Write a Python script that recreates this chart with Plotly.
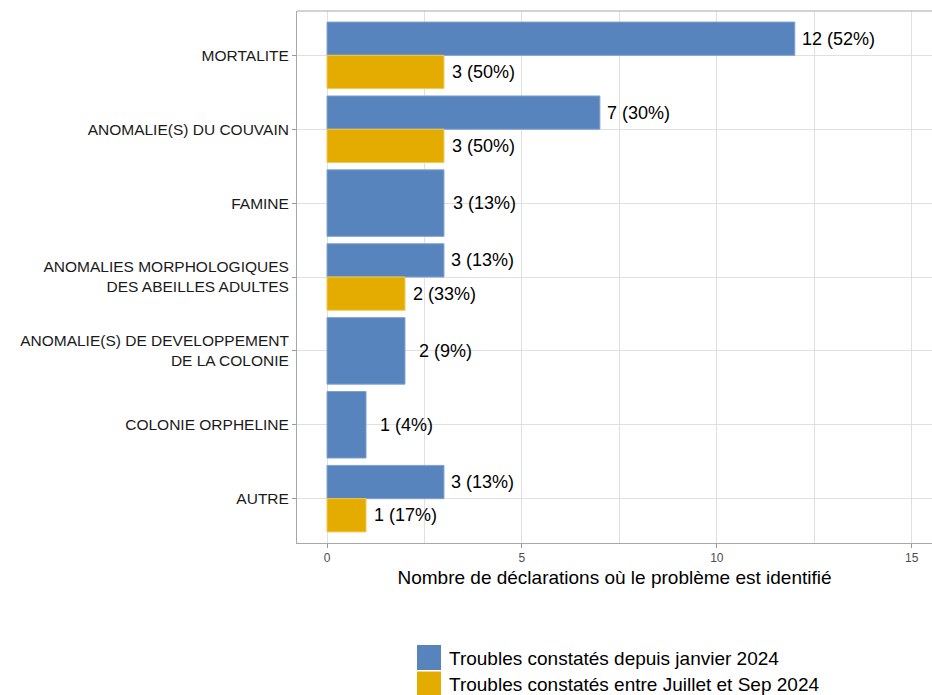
import plotly.graph_objects as go

categories = ["MORTALITE", "ANOMALIE(S) DU COUVAIN", "FAMINE",
              "ANOMALIES MORPHOLOGIQUES<br>DES ABEILLES ADULTES",
              "ANOMALIE(S) DE DEVELOPPEMENT<br>DE LA COLONIE",
              "COLONIE ORPHELINE", "AUTRE"]
since_jan = [12, 7, 3, 3, 2, 1, 3]
since_jan_pct = [52, 30, 13, 13, 9, 4, 13]
jul_sep = [3, 3, None, 2, None, None, 1]
jul_sep_pct = [50, 50, None, 33, None, None, 17]
series_names = ["Troubles constatés depuis janvier 2024",
                "Troubles constatés entre Juillet et Sep 2024"]
x_ticks = [0, 5, 10, 15]

BLUE = "#5884BD"
GOLD = "#E5AC00"
BORDER = "#A8A8A8"
W, H = 932, 695
L, R, T = 297, 0, 11
B = H - 543

n = len(categories)
centers = [n - i for i in range(n)]

by, bw, gy, gx, gw = [], [], [], [], []
for c, v, g in zip(centers, since_jan, jul_sep):
    if g is None:
        by.append(c); bw.append(0.9)
    else:
        by.append(c + 0.225); bw.append(0.45)
        gy.append(c - 0.225); gx.append(g); gw.append(0.45)

fig = go.Figure()
fig.add_trace(go.Bar(x=since_jan, y=by, width=bw, orientation="h",
                     marker=dict(color=BLUE, line=dict(color="#7FA0CF", width=1)),
                     name=series_names[0], showlegend=False, hoverinfo="skip"))
fig.add_trace(go.Bar(x=gx, y=gy, width=gw, orientation="h",
                     marker=dict(color=GOLD, line=dict(color="#F0C850", width=1)),
                     name=series_names[1], showlegend=False, hoverinfo="skip"))

ann = []
for c, yv, v, p, g in zip(centers, by, since_jan, since_jan_pct, jul_sep):
    shift = 5
    if g is None:
        shift = 7 if v >= 3 else 12
    ann.append(dict(x=v, y=yv, text=f"{v} ({p}%)", xanchor="left", yanchor="middle",
                    xshift=shift, showarrow=False,
                    font=dict(size=18, color="#000000")))
gi = 0
for g, p in zip(jul_sep, jul_sep_pct):
    if g is None:
        continue
    ann.append(dict(x=g, y=gy[gi], text=f"{g} ({p}%)", xanchor="left", yanchor="middle",
                    xshift=6, showarrow=False, font=dict(size=18, color="#000000")))
    gi += 1

# legend (drawn manually to get ggplot-like large keys)
pw = W - L - R
ph = H - T - B
def px2paper_x(px):
    return (px - L) / pw
def px2paper_y(py):
    return (H - B - py) / ph

shapes = [dict(type="line", xref="paper", yref="paper", x0=0, x1=1, y0=1, y1=1,
               line=dict(color=BORDER, width=1))]
for k, (name, col) in enumerate(zip(series_names, [BLUE, GOLD])):
    top = 645 + k * 26.5
    shapes.append(dict(type="rect", xref="paper", yref="paper",
                       x0=px2paper_x(417), x1=px2paper_x(441),
                       y0=px2paper_y(top + 25), y1=px2paper_y(top),
                       fillcolor=col, line=dict(width=0)))
    ann.append(dict(xref="paper", yref="paper", x=px2paper_x(447), y=px2paper_y(top + 13),
                    text=name, xanchor="left", yanchor="middle", showarrow=False,
                    font=dict(size=19, color="#000000")))

fig.update_layout(
    width=W, height=H,
    margin=dict(l=L, r=R, t=T, b=B, autoexpand=False),
    plot_bgcolor="white", paper_bgcolor="white",
    font=dict(family="Liberation Sans, Arial, sans-serif", color="#000000"),
    barmode="overlay", hovermode=False,
    annotations=ann, shapes=shapes,
    xaxis=dict(range=[-0.77, 15.52], tickvals=x_ticks, ticks="outside", ticklen=4,
               tickcolor="#999999",
               tickfont=dict(size=12, color="#4D4D4D"),
               showgrid=True, gridcolor="#E0E0E0", gridwidth=1,
               minor=dict(dtick=2.5, showgrid=True, gridcolor="#E0E0E0", gridwidth=1),
               zeroline=False, showline=True, linecolor=BORDER, mirror=False,
               title=dict(text="Nombre de déclarations où le problème est identifié",
                          font=dict(size=19, color="#000000"), standoff=6)),
    yaxis=dict(range=[0.4, 7.6], tickvals=centers, ticktext=categories,
               ticks="outside", ticklen=4, tickcolor="#999999",
               tickfont=dict(size=15.5, color="#1A1A1A"),
               showgrid=True, gridcolor="#E0E0E0", zeroline=False,
               showline=True, linecolor=BORDER, mirror=False),
)

fig.write_html("out.html",
               config={"displayModeBar": False},
               post_script="document.body.style.margin='0px';"
                           "document.body.style.overflow='hidden';"
                           "document.documentElement.style.overflow='hidden';")
